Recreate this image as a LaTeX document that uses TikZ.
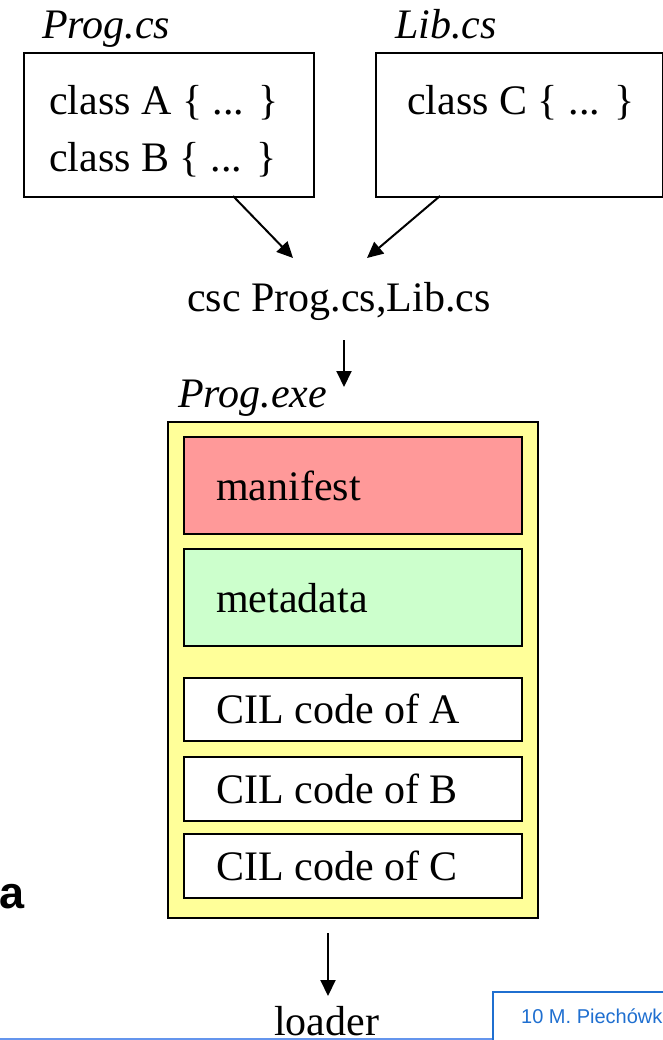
\documentclass[tikz,border=0pt]{standalone}
\usepackage{fontspec}
\setmainfont{Liberation Serif}
\newfontfamily\arialfont{Liberation Sans}
\usetikzlibrary{arrows.meta}
\definecolor{exeyellow}{HTML}{FFFF99}
\definecolor{manired}{HTML}{FF9999}
\definecolor{metagreen}{HTML}{CCFFCC}
\definecolor{footblue}{HTML}{1F6FD0}
\definecolor{lineblue}{HTML}{6495ED}
\begin{document}
\begin{tikzpicture}[x=1pt,y=-1pt,
  box/.style={draw=black,line width=2pt,anchor=north west,inner sep=0pt},
  txt/.style={anchor=base west,inner sep=0pt,font=\fontsize{42}{48}\selectfont},
  itxt/.style={anchor=base west,inner sep=0pt,font=\fontsize{42}{48}\selectfont\itshape},
  arr/.style={line width=2pt,-{Triangle[length=16pt,width=15pt]}}]
\useasboundingbox (0,0) rectangle (663,1040);
\clip (0,0) rectangle (663,1040);
% source files
\node[itxt] (progcs) at (42,39) {Prog.cs};
\node[itxt] (libcs) at (395,39) {Lib.cs};
\node[box,minimum width=290pt,minimum height=144pt] (progbox) at (23,52) {};
\node[box,minimum width=287pt,minimum height=144pt] (libbox) at (375,52) {};
\node[txt] (clA) at (49,115) {class A \{ ... \}};
\node[txt] (clB) at (49,172) {class B \{ ... \}};
\node[txt] (clC) at (407,115) {class C \{ ... \}};
% compiler
\node[txt] (csc) at (187,311) {csc Prog.cs,Lib.cs};
\coordinate (p1) at (233,196);
\coordinate (p2) at (293,258);
\coordinate (l1) at (440,196);
\coordinate (l2) at (367,258);
\draw[arr] (p1) -- (p2);
\draw[arr] (l1) -- (l2);
\coordinate (c1) at (344,340);
\coordinate (c2) at (344,387);
\draw[arr] (c1) -- (c2);
% assembly
\node[itxt] (progexe) at (178,407) {Prog.exe};
\node[box,fill=exeyellow,minimum width=370pt,minimum height=496pt] (exe) at (167,421) {};
\node[box,fill=manired,minimum width=338pt,minimum height=97pt] (mani) at (183,436) {};
\node[box,fill=metagreen,minimum width=338pt,minimum height=97pt] (meta) at (183,548) {};
\node[box,fill=white,minimum width=338pt,minimum height=63pt] (cilA) at (183,677) {};
\node[box,fill=white,minimum width=338pt,minimum height=64pt] (cilB) at (183,756) {};
\node[box,fill=white,minimum width=338pt,minimum height=64pt] (cilC) at (183,833) {};
\node[txt] (tmani) at (216,500) {manifest};
\node[txt] (tmeta) at (216,612) {metadata};
\node[txt] (tA) at (216,723) {CIL code of A};
\node[txt] (tB) at (216,803) {CIL code of B};
\node[txt] (tC) at (216,880) {CIL code of C};
% loader
\coordinate (e1) at (328,933);
\coordinate (e2) at (328,996);
\draw[arr] (e1) -- (e2);
\node[txt,text depth=0pt] (loader) at (274,1035) {loader};
% slide remnants
\node[anchor=base west,inner sep=0pt,font=\arialfont\bfseries\fontsize{45}{50}\selectfont] (leftA) at (-1,908) {a};
\coordinate (b0) at (0,1039);
\coordinate (b1) at (493,1039);
\draw[lineblue,line width=3pt] (b0) -- (b1);
\coordinate (f1) at (493,1041);
\coordinate (f2) at (493,992);
\coordinate (f3) at (664,992);
\draw[footblue,line width=2pt] (f1) -- (f2) -- (f3);
\node[anchor=base west,inner sep=0pt,text=footblue,font=\arialfont\fontsize{20}{22}\selectfont] (foot) at (521,1023) {10 M. Piechówk};
\end{tikzpicture}
\end{document}
